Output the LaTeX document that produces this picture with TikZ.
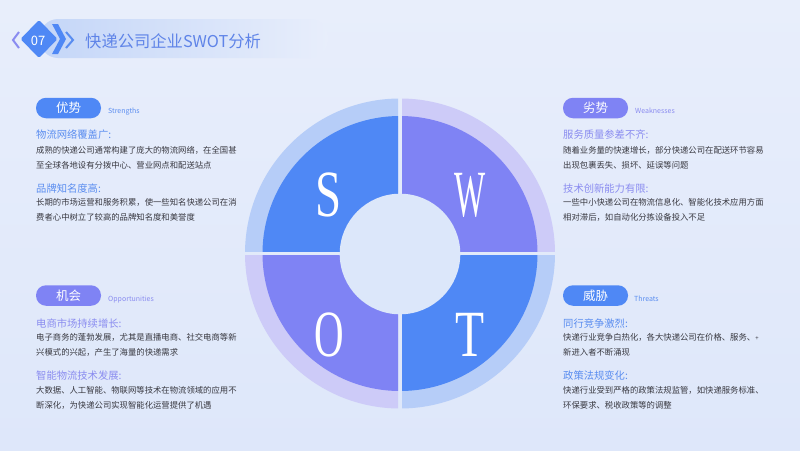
\documentclass[tikz,border=0pt]{standalone}
\usepackage{fontspec}
\usepackage{graphicx}
\setmainfont{Noto Sans CJK SC}
\newfontfamily\serifL{Liberation Serif}
\definecolor{bgA}{HTML}{E8EEFB}
\definecolor{bgB}{HTML}{DEE7FA}
\definecolor{qblue}{HTML}{4F88F5}
\definecolor{qpurp}{HTML}{7F83F4}
\definecolor{rblue}{HTML}{B6CDF8}
\definecolor{rpurp}{HTML}{CDCBF8}
\definecolor{holec}{HTML}{DCE7FA}
\definecolor{hblue}{HTML}{5A8DF0}
\definecolor{hpurp}{HTML}{8A8CF0}
\definecolor{bodyc}{HTML}{383840}
\definecolor{titlec}{HTML}{5F84E8}
\definecolor{bandL}{HTML}{C4D6F8}
\begin{document}
\begin{tikzpicture}[x=1pt,y=-1pt,
  cjk/.style={inner sep=0pt, anchor=west},
  bodytxt/.style={cjk, font=\fontsize{8.35}{10}\selectfont, text=bodyc, text height=7.4pt, text depth=1pt},
  headtxt/.style={cjk, font=\fontsize{10.3}{12}\selectfont, text height=9.1pt, text depth=1.2pt},
  entxt/.style={cjk, font=\fontsize{7}{8}\selectfont, text height=5.2pt, text depth=0.6pt},
  pill/.style={inner sep=0pt, rounded corners=10pt, minimum width=65pt, minimum height=20.5pt, text=white, font=\fontsize{12.5}{13}\selectfont},
  bigletter/.style={inner sep=0pt, anchor=base, text=white, font=\serifL\fontsize{66}{66}\selectfont}
]
\useasboundingbox (0,0) rectangle (800,450);
\shade[top color=bgA, bottom color=bgB] (0,0) rectangle (800,450);

% title band
\shade[left color=bandL, right color=bgA, rounded corners=18pt] (40,19) rectangle (328,58);
\draw[line width=2pt, color=hpurp, line join=miter] (19,32) -- (13,40) -- (19,48);
\fill[qblue, rounded corners=1.5pt] (39,20) -- (57.5,39) -- (39,58) -- (20.5,39) -- cycle;
\fill[qblue] (52,24) -- (58,24) -- (66,39) -- (58,54) -- (52,54) -- (60,39) -- cycle;
\draw[line width=2pt, color=hblue, line join=miter] (66,32) -- (73,40) -- (66,48);
\node[inner sep=0pt, text=white, font=\fontsize{13}{14}\selectfont] (badge) at (38,40.5) {07};
\node[cjk, text=titlec, font=\fontsize{16.3}{18}\selectfont, text height=14.4pt, text depth=2pt] (title) at (85,41) {快递公司企业SWOT分析};

% SWOT circle
\foreach \sx/\sy/\rc/\qc in {-1/-1/rblue/qblue, 1/-1/rpurp/qpurp, -1/1/rpurp/qpurp, 1/1/rblue/qblue}{
  \begin{scope}
    \clip (400+2*\sx,253.5+2*\sy) rectangle (400+170*\sx,253.5+170*\sy);
    \fill[\rc] (400,253.5) circle (155);
    \fill[\qc] (400,253.5) circle (137.5);
  \end{scope}
}
\fill[holec] (400,254) circle (60.3);
\node[bigletter] (ls) at (329,216.5) {\scalebox{0.71}[1]{S}};
\node[bigletter] (lw) at (470,216.5) {\scalebox{0.5}[1]{W}};
\node[bigletter] (lo) at (329.5,356.5) {\scalebox{0.62}[1]{O}};
\node[bigletter] (lt) at (470,356.5) {\scalebox{0.72}[1]{T}};

% Strengths
\node[pill, fill=qblue] (ps) at (68.5,108) {优势};
\node[entxt, text=hblue] (es) at (108,111) {Strengths};
\node[headtxt, text=hblue] (s1h) at (36,134.3) {物流网络覆盖广:};
\node[bodytxt] (s1a) at (36,150.7) {成熟的快递公司通常构建了庞大的物流网络，在全国甚};
\node[bodytxt] (s1b) at (36,165) {至全球各地设有分拨中心、营业网点和配送站点};
\node[headtxt, text=hblue] (s2h) at (36,188.3) {品牌知名度高:};
\node[bodytxt] (s2a) at (36,202.7) {长期的市场运营和服务积累，使一些知名快递公司在消};
\node[bodytxt] (s2b) at (36,217.3) {费者心中树立了较高的品牌知名度和美誉度};

% Weaknesses
\node[pill, fill=qpurp] (pw) at (595.5,108) {劣势};
\node[entxt, text=hpurp] (ew) at (635,111) {Weaknesses};
\node[headtxt, text=hpurp] (w1h) at (563,134.8) {服务质量参差不齐:};
\node[bodytxt] (w1a) at (563,150.7) {随着业务量的快速增长，部分快递公司在配送环节容易};
\node[bodytxt] (w1b) at (563,165) {出现包裹丢失、损坏、延误等问题};
\node[headtxt, text=hpurp] (w2h) at (563,188.8) {技术创新能力有限:};
\node[bodytxt] (w2a) at (563,202.7) {一些中小快递公司在物流信息化、智能化技术应用方面};
\node[bodytxt] (w2b) at (563,217.3) {相对滞后，如自动化分拣设备投入不足};

% Opportunities
\node[pill, fill=qpurp] (po) at (68.5,295.5) {机会};
\node[entxt, text=hpurp] (eo) at (108,299) {Opportunities};
\node[headtxt, text=hpurp] (o1h) at (36,323.3) {电商市场持续增长:};
\node[bodytxt] (o1a) at (36,337.5) {电子商务的蓬勃发展，尤其是直播电商、社交电商等新};
\node[bodytxt] (o1b) at (36,352.3) {兴模式的兴起，产生了海量的快递需求};
\node[headtxt, text=hpurp] (o2h) at (36,376) {智能物流技术发展:};
\node[bodytxt] (o2a) at (36,390) {大数据、人工智能、物联网等技术在物流领域的应用不};
\node[bodytxt] (o2b) at (36,405) {断深化，为快递公司实现智能化运营提供了机遇};

% Threats
\node[pill, fill=qblue] (pt) at (595.5,295.5) {威胁};
\node[entxt, text=hblue] (et) at (634,299) {Threats};
\node[headtxt, text=hblue] (t1h) at (563,323.3) {同行竞争激烈:};
\node[bodytxt] (t1a) at (563,337.3) {快递行业竞争白热化，各大快递公司在价格、服务、{\fontsize{6}{7}\selectfont +}};
\node[bodytxt] (t1b) at (563,352.3) {新进入者不断涌现};
\node[headtxt, text=hblue] (t2h) at (563,376) {政策法规变化:};
\node[bodytxt] (t2a) at (563,390) {快递行业受到严格的政策法规监管，如快递服务标准、};
\node[bodytxt] (t2b) at (563,405.3) {环保要求、税收政策等的调整};
\end{tikzpicture}
\end{document}
